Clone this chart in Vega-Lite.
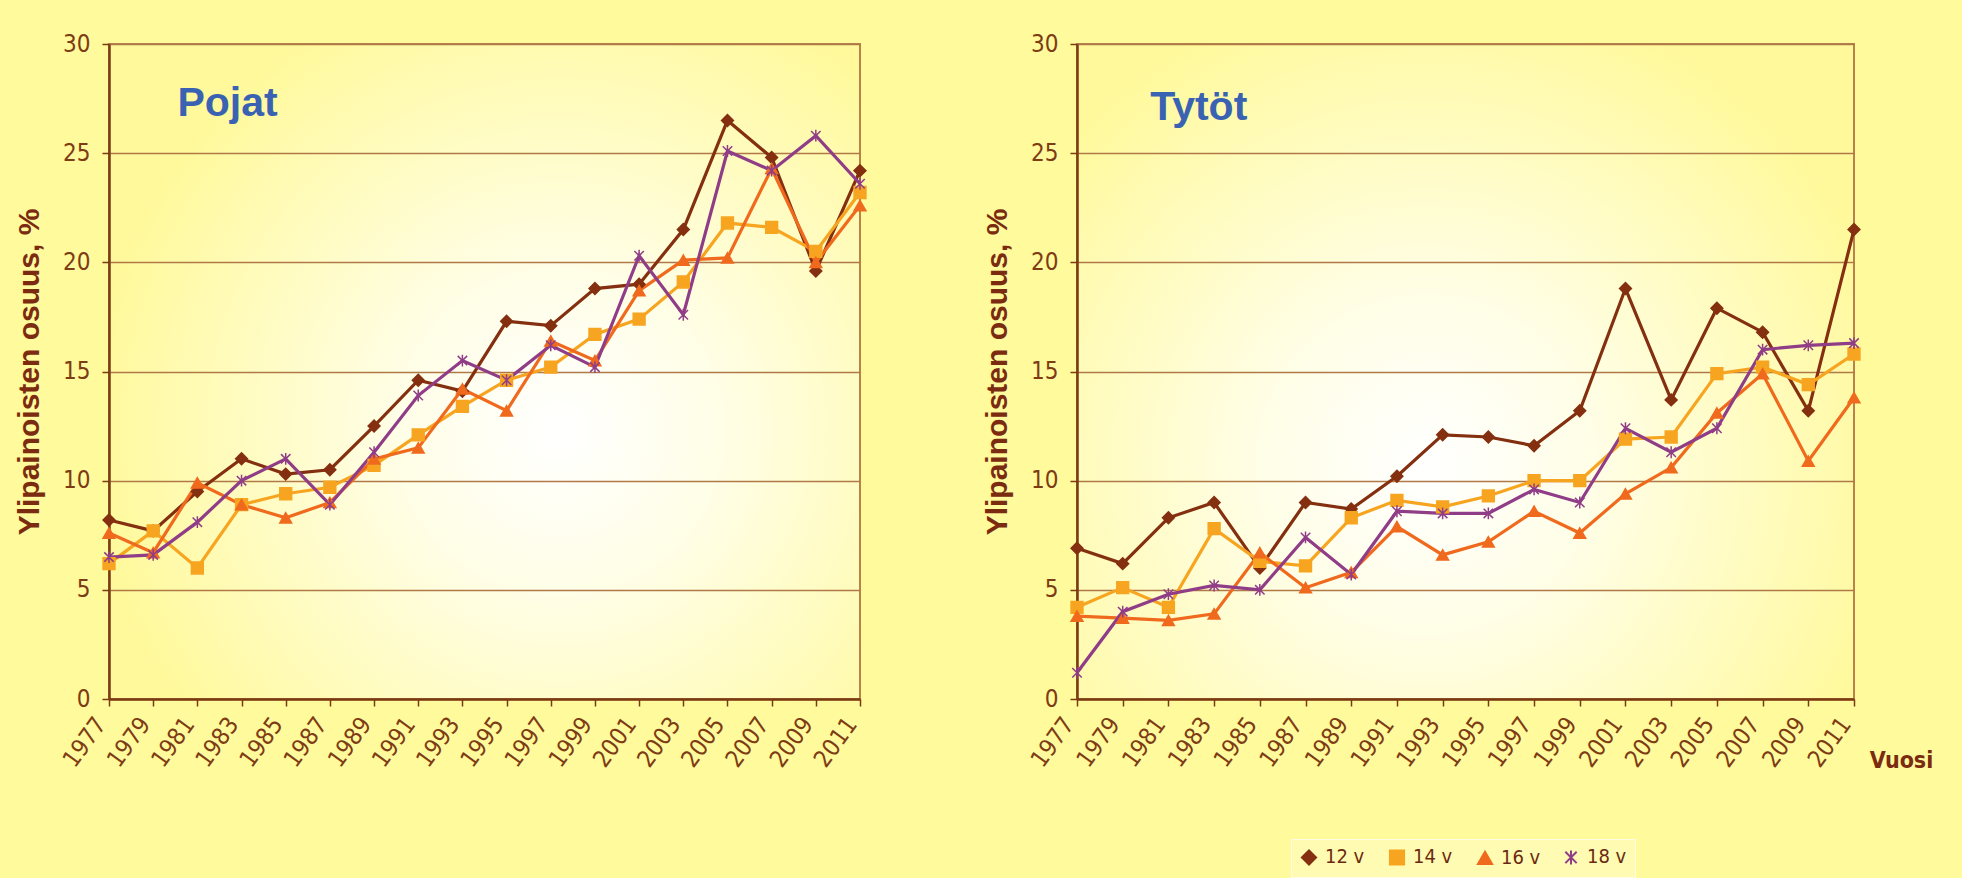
{
  "$schema": "https://vega.github.io/schema/vega-lite/v6.json",
  "background": "#FFFA9C",
  "padding": {"left": 13, "top": 31, "right": 70, "bottom": 0},
  "config": {
    "font": "Liberation Sans",
    "axis": {
      "labelFont": "Liberation Sans Narrow, DejaVu Sans Condensed, sans-serif",
      "labelFontSize": 24,
      "labelColor": "#7D3C14",
      "domainColor": "#7A3A12",
      "domainWidth": 2.5,
      "tickColor": "#7A3A12",
      "tickWidth": 1.5,
      "tickSize": 7,
      "gridColor": "#B07A48",
      "gridWidth": 1.5,
      "titleFont": "Liberation Sans",
      "titleFontWeight": "bold",
      "titleColor": "#7B2B10"
    }
  },
  "data": {"values": [
    {"sex":"Pojat","year":1977,"age":"12 v","pct":8.2},{"sex":"Pojat","year":1977,"age":"14 v","pct":6.2},{"sex":"Pojat","year":1977,"age":"16 v","pct":7.6},{"sex":"Pojat","year":1977,"age":"18 v","pct":6.5},
    {"sex":"Pojat","year":1979,"age":"12 v","pct":7.7},{"sex":"Pojat","year":1979,"age":"14 v","pct":7.7},{"sex":"Pojat","year":1979,"age":"16 v","pct":6.7},{"sex":"Pojat","year":1979,"age":"18 v","pct":6.6},
    {"sex":"Pojat","year":1981,"age":"12 v","pct":9.5},{"sex":"Pojat","year":1981,"age":"14 v","pct":6.0},{"sex":"Pojat","year":1981,"age":"16 v","pct":9.9},{"sex":"Pojat","year":1981,"age":"18 v","pct":8.1},
    {"sex":"Pojat","year":1983,"age":"12 v","pct":11.0},{"sex":"Pojat","year":1983,"age":"14 v","pct":8.9},{"sex":"Pojat","year":1983,"age":"16 v","pct":8.9},{"sex":"Pojat","year":1983,"age":"18 v","pct":10.0},
    {"sex":"Pojat","year":1985,"age":"12 v","pct":10.3},{"sex":"Pojat","year":1985,"age":"14 v","pct":9.4},{"sex":"Pojat","year":1985,"age":"16 v","pct":8.3},{"sex":"Pojat","year":1985,"age":"18 v","pct":11.0},
    {"sex":"Pojat","year":1987,"age":"12 v","pct":10.5},{"sex":"Pojat","year":1987,"age":"14 v","pct":9.7},{"sex":"Pojat","year":1987,"age":"16 v","pct":9.0},{"sex":"Pojat","year":1987,"age":"18 v","pct":8.9},
    {"sex":"Pojat","year":1989,"age":"12 v","pct":12.5},{"sex":"Pojat","year":1989,"age":"14 v","pct":10.7},{"sex":"Pojat","year":1989,"age":"16 v","pct":11.0},{"sex":"Pojat","year":1989,"age":"18 v","pct":11.3},
    {"sex":"Pojat","year":1991,"age":"12 v","pct":14.6},{"sex":"Pojat","year":1991,"age":"14 v","pct":12.1},{"sex":"Pojat","year":1991,"age":"16 v","pct":11.5},{"sex":"Pojat","year":1991,"age":"18 v","pct":13.9},
    {"sex":"Pojat","year":1993,"age":"12 v","pct":14.1},{"sex":"Pojat","year":1993,"age":"14 v","pct":13.4},{"sex":"Pojat","year":1993,"age":"16 v","pct":14.2},{"sex":"Pojat","year":1993,"age":"18 v","pct":15.5},
    {"sex":"Pojat","year":1995,"age":"12 v","pct":17.3},{"sex":"Pojat","year":1995,"age":"14 v","pct":14.6},{"sex":"Pojat","year":1995,"age":"16 v","pct":13.2},{"sex":"Pojat","year":1995,"age":"18 v","pct":14.6},
    {"sex":"Pojat","year":1997,"age":"12 v","pct":17.1},{"sex":"Pojat","year":1997,"age":"14 v","pct":15.2},{"sex":"Pojat","year":1997,"age":"16 v","pct":16.4},{"sex":"Pojat","year":1997,"age":"18 v","pct":16.2},
    {"sex":"Pojat","year":1999,"age":"12 v","pct":18.8},{"sex":"Pojat","year":1999,"age":"14 v","pct":16.7},{"sex":"Pojat","year":1999,"age":"16 v","pct":15.5},{"sex":"Pojat","year":1999,"age":"18 v","pct":15.2},
    {"sex":"Pojat","year":2001,"age":"12 v","pct":19.0},{"sex":"Pojat","year":2001,"age":"14 v","pct":17.4},{"sex":"Pojat","year":2001,"age":"16 v","pct":18.7},{"sex":"Pojat","year":2001,"age":"18 v","pct":20.3},
    {"sex":"Pojat","year":2003,"age":"12 v","pct":21.5},{"sex":"Pojat","year":2003,"age":"14 v","pct":19.1},{"sex":"Pojat","year":2003,"age":"16 v","pct":20.1},{"sex":"Pojat","year":2003,"age":"18 v","pct":17.6},
    {"sex":"Pojat","year":2005,"age":"12 v","pct":26.5},{"sex":"Pojat","year":2005,"age":"14 v","pct":21.8},{"sex":"Pojat","year":2005,"age":"16 v","pct":20.2},{"sex":"Pojat","year":2005,"age":"18 v","pct":25.1},
    {"sex":"Pojat","year":2007,"age":"12 v","pct":24.8},{"sex":"Pojat","year":2007,"age":"14 v","pct":21.6},{"sex":"Pojat","year":2007,"age":"16 v","pct":24.3},{"sex":"Pojat","year":2007,"age":"18 v","pct":24.2},
    {"sex":"Pojat","year":2009,"age":"12 v","pct":19.6},{"sex":"Pojat","year":2009,"age":"14 v","pct":20.5},{"sex":"Pojat","year":2009,"age":"16 v","pct":20.0},{"sex":"Pojat","year":2009,"age":"18 v","pct":25.8},
    {"sex":"Pojat","year":2011,"age":"12 v","pct":24.2},{"sex":"Pojat","year":2011,"age":"14 v","pct":23.2},{"sex":"Pojat","year":2011,"age":"16 v","pct":22.6},{"sex":"Pojat","year":2011,"age":"18 v","pct":23.6},
    {"sex":"Tytöt","year":1977,"age":"12 v","pct":6.9},{"sex":"Tytöt","year":1977,"age":"14 v","pct":4.2},{"sex":"Tytöt","year":1977,"age":"16 v","pct":3.8},{"sex":"Tytöt","year":1977,"age":"18 v","pct":1.2},
    {"sex":"Tytöt","year":1979,"age":"12 v","pct":6.2},{"sex":"Tytöt","year":1979,"age":"14 v","pct":5.1},{"sex":"Tytöt","year":1979,"age":"16 v","pct":3.7},{"sex":"Tytöt","year":1979,"age":"18 v","pct":4.0},
    {"sex":"Tytöt","year":1981,"age":"12 v","pct":8.3},{"sex":"Tytöt","year":1981,"age":"14 v","pct":4.2},{"sex":"Tytöt","year":1981,"age":"16 v","pct":3.6},{"sex":"Tytöt","year":1981,"age":"18 v","pct":4.8},
    {"sex":"Tytöt","year":1983,"age":"12 v","pct":9.0},{"sex":"Tytöt","year":1983,"age":"14 v","pct":7.8},{"sex":"Tytöt","year":1983,"age":"16 v","pct":3.9},{"sex":"Tytöt","year":1983,"age":"18 v","pct":5.2},
    {"sex":"Tytöt","year":1985,"age":"12 v","pct":6.0},{"sex":"Tytöt","year":1985,"age":"14 v","pct":6.3},{"sex":"Tytöt","year":1985,"age":"16 v","pct":6.7},{"sex":"Tytöt","year":1985,"age":"18 v","pct":5.0},
    {"sex":"Tytöt","year":1987,"age":"12 v","pct":9.0},{"sex":"Tytöt","year":1987,"age":"14 v","pct":6.1},{"sex":"Tytöt","year":1987,"age":"16 v","pct":5.1},{"sex":"Tytöt","year":1987,"age":"18 v","pct":7.4},
    {"sex":"Tytöt","year":1989,"age":"12 v","pct":8.7},{"sex":"Tytöt","year":1989,"age":"14 v","pct":8.3},{"sex":"Tytöt","year":1989,"age":"16 v","pct":5.8},{"sex":"Tytöt","year":1989,"age":"18 v","pct":5.7},
    {"sex":"Tytöt","year":1991,"age":"12 v","pct":10.2},{"sex":"Tytöt","year":1991,"age":"14 v","pct":9.1},{"sex":"Tytöt","year":1991,"age":"16 v","pct":7.9},{"sex":"Tytöt","year":1991,"age":"18 v","pct":8.6},
    {"sex":"Tytöt","year":1993,"age":"12 v","pct":12.1},{"sex":"Tytöt","year":1993,"age":"14 v","pct":8.8},{"sex":"Tytöt","year":1993,"age":"16 v","pct":6.6},{"sex":"Tytöt","year":1993,"age":"18 v","pct":8.5},
    {"sex":"Tytöt","year":1995,"age":"12 v","pct":12.0},{"sex":"Tytöt","year":1995,"age":"14 v","pct":9.3},{"sex":"Tytöt","year":1995,"age":"16 v","pct":7.2},{"sex":"Tytöt","year":1995,"age":"18 v","pct":8.5},
    {"sex":"Tytöt","year":1997,"age":"12 v","pct":11.6},{"sex":"Tytöt","year":1997,"age":"14 v","pct":10.0},{"sex":"Tytöt","year":1997,"age":"16 v","pct":8.6},{"sex":"Tytöt","year":1997,"age":"18 v","pct":9.6},
    {"sex":"Tytöt","year":1999,"age":"12 v","pct":13.2},{"sex":"Tytöt","year":1999,"age":"14 v","pct":10.0},{"sex":"Tytöt","year":1999,"age":"16 v","pct":7.6},{"sex":"Tytöt","year":1999,"age":"18 v","pct":9.0},
    {"sex":"Tytöt","year":2001,"age":"12 v","pct":18.8},{"sex":"Tytöt","year":2001,"age":"14 v","pct":11.9},{"sex":"Tytöt","year":2001,"age":"16 v","pct":9.4},{"sex":"Tytöt","year":2001,"age":"18 v","pct":12.4},
    {"sex":"Tytöt","year":2003,"age":"12 v","pct":13.7},{"sex":"Tytöt","year":2003,"age":"14 v","pct":12.0},{"sex":"Tytöt","year":2003,"age":"16 v","pct":10.6},{"sex":"Tytöt","year":2003,"age":"18 v","pct":11.3},
    {"sex":"Tytöt","year":2005,"age":"12 v","pct":17.9},{"sex":"Tytöt","year":2005,"age":"14 v","pct":14.9},{"sex":"Tytöt","year":2005,"age":"16 v","pct":13.1},{"sex":"Tytöt","year":2005,"age":"18 v","pct":12.4},
    {"sex":"Tytöt","year":2007,"age":"12 v","pct":16.8},{"sex":"Tytöt","year":2007,"age":"14 v","pct":15.2},{"sex":"Tytöt","year":2007,"age":"16 v","pct":14.9},{"sex":"Tytöt","year":2007,"age":"18 v","pct":16.0},
    {"sex":"Tytöt","year":2009,"age":"12 v","pct":13.2},{"sex":"Tytöt","year":2009,"age":"14 v","pct":14.4},{"sex":"Tytöt","year":2009,"age":"16 v","pct":10.9},{"sex":"Tytöt","year":2009,"age":"18 v","pct":16.2},
    {"sex":"Tytöt","year":2011,"age":"12 v","pct":21.5},{"sex":"Tytöt","year":2011,"age":"14 v","pct":15.8},{"sex":"Tytöt","year":2011,"age":"16 v","pct":13.8},{"sex":"Tytöt","year":2011,"age":"18 v","pct":16.3}
  ]},
  "spacing": 111,
  "hconcat": [
    {
      "width": 751,
      "height": 655,
      "view": {
        "stroke": "#B8824A",
        "strokeWidth": 2,
        "fill": {"gradient": "radial", "x1": 0.6, "y1": 0.58, "r1": 0, "x2": 0.6, "y2": 0.58, "r2": 0.62,
                 "stops": [{"offset": 0, "color": "#FFFFFF"}, {"offset": 0.35, "color": "#FFFEE6"}, {"offset": 1, "color": "#FFF99C"}]}
      },
      "encoding": {
        "x": {"field": "year", "type": "quantitative",
              "scale": {"domain": [1977, 2011], "nice": false, "zero": false},
              "axis": {"values": [1977,1979,1981,1983,1985,1987,1989,1991,1993,1995,1997,1999,2001,2003,2005,2007,2009,2011],
                       "format": "d", "labelAngle": -54, "grid": false, "title": null, "labelPadding": 14, "labelOffset": -8, "labelFlush": false, "labelOverlap": false}},
        "y": {"field": "pct", "type": "quantitative",
              "scale": {"domain": [0, 30], "nice": false},
              "axis": {"values": [0,5,10,15,20,25,30], "title": "Ylipainoisten osuus, %", "titleFontSize": 30, "titlePadding": 18, "labelPadding": 12, "grid": true}}
      },
      "layer": [
        {
          "transform": [{"filter": "datum.sex === 'Pojat'"}],
          "mark": {"type": "line", "strokeWidth": 3.2},
          "encoding": {
            "color": {"field": "age", "type": "nominal",
                      "scale": {"domain": ["12 v","14 v","16 v","18 v"], "range": ["#843010","#F7A520","#F06A1E","#903D88"]}}
          }
        },
        {
          "transform": [{"filter": "datum.sex === 'Pojat'"}],
          "mark": {"type": "point", "filled": true, "size": 140, "strokeWidth": 1.5, "opacity": 1},
          "encoding": {
            "color": {"field": "age", "type": "nominal",
                      "scale": {"domain": ["12 v","14 v","16 v","18 v"], "range": ["#843010","#F7A520","#F06A1E","#903D88"]},
                      "legend": {
                        "orient": "none", "legendX": 1182, "legendY": 795, "direction": "horizontal", "title": null,
                        "symbolSize": 200, "symbolStrokeWidth": 2,
                        "labelFont": "Liberation Sans Narrow, DejaVu Sans Condensed, sans-serif", "labelFontSize": 20, "labelColor": "#6B2A10",
                        "columnPadding": 20, "labelOffset": 6, "padding": 8,
                        "fillColor": "#FFFBB3", "strokeColor": "#FFFDE6"
                      }},
            "shape": {"field": "age", "type": "nominal", "legend": null,
                      "scale": {"domain": ["12 v","14 v","16 v","18 v"], "range": ["diamond","square","triangle-up","M0,-1L0,1M-0.8,-0.8L0.8,0.8M-0.8,0.8L0.8,-0.8"]}},
            "stroke": {"field": "age", "type": "nominal",
                       "scale": {"domain": ["12 v","14 v","16 v","18 v"], "range": ["#843010","#F7A520","#F06A1E","#903D88"]}, "legend": null}
          }
        },
        {
          "transform": [{"filter": "datum.sex === 'Pojat' && datum.year === 1977 && datum.age === '12 v'"}],
          "mark": {"type": "text", "fontSize": 41, "fontWeight": "bold", "color": "#3A62B2", "align": "left", "baseline": "alphabetic", "font": "Liberation Sans"},
          "encoding": {"x": {"datum": 1980.1, "type": "quantitative"}, "y": {"datum": 26.7, "type": "quantitative"}, "text": {"field": "sex"}, "color": {"value": "#3A62B2"}}
        }
      ]
    },
    {
      "width": 777,
      "height": 655,
      "view": {
        "stroke": "#B8824A",
        "strokeWidth": 2,
        "fill": {"gradient": "radial", "x1": 0.45, "y1": 0.62, "r1": 0, "x2": 0.45, "y2": 0.62, "r2": 0.62,
                 "stops": [{"offset": 0, "color": "#FFFFFF"}, {"offset": 0.35, "color": "#FFFEE6"}, {"offset": 1, "color": "#FFF99C"}]}
      },
      "encoding": {
        "x": {"field": "year", "type": "quantitative",
              "scale": {"domain": [1977, 2011], "nice": false, "zero": false},
              "axis": {"values": [1977,1979,1981,1983,1985,1987,1989,1991,1993,1995,1997,1999,2001,2003,2005,2007,2009,2011],
                       "format": "d", "labelAngle": -54, "grid": false, "labelPadding": 14, "labelOffset": -8, "labelFlush": false, "labelOverlap": false,
                       "title": "Vuosi", "titleX": 824, "titleY": 61, "titleAlign": "center", "titleBaseline": "middle", "titleAngle": 0,
                       "titleFontSize": 23, "titleFont": "Liberation Sans Narrow, DejaVu Sans Condensed, sans-serif"}},
        "y": {"field": "pct", "type": "quantitative",
              "scale": {"domain": [0, 30], "nice": false},
              "axis": {"values": [0,5,10,15,20,25,30], "title": "Ylipainoisten osuus, %", "titleFontSize": 30, "titlePadding": 18, "labelPadding": 12, "grid": true}}
      },
      "layer": [
        {
          "transform": [{"filter": "datum.sex === 'Tytöt'"}],
          "mark": {"type": "line", "strokeWidth": 3.2},
          "encoding": {
            "color": {"field": "age", "type": "nominal",
                      "scale": {"domain": ["12 v","14 v","16 v","18 v"], "range": ["#843010","#F7A520","#F06A1E","#903D88"]}}
          }
        },
        {
          "transform": [{"filter": "datum.sex === 'Tytöt'"}],
          "mark": {"type": "point", "filled": true, "size": 140, "strokeWidth": 1.5, "opacity": 1},
          "encoding": {
            "color": {"field": "age", "type": "nominal",
                      "scale": {"domain": ["12 v","14 v","16 v","18 v"], "range": ["#843010","#F7A520","#F06A1E","#903D88"]}},
            "shape": {"field": "age", "type": "nominal", "legend": null,
                      "scale": {"domain": ["12 v","14 v","16 v","18 v"], "range": ["diamond","square","triangle-up","M0,-1L0,1M-0.8,-0.8L0.8,0.8M-0.8,0.8L0.8,-0.8"]}},
            "stroke": {"field": "age", "type": "nominal",
                       "scale": {"domain": ["12 v","14 v","16 v","18 v"], "range": ["#843010","#F7A520","#F06A1E","#903D88"]}, "legend": null}
          }
        },
        {
          "transform": [{"filter": "datum.sex === 'Tytöt' && datum.year === 1977 && datum.age === '12 v'"}],
          "mark": {"type": "text", "fontSize": 41, "fontWeight": "bold", "color": "#3A62B2", "align": "left", "baseline": "alphabetic", "font": "Liberation Sans"},
          "encoding": {"x": {"datum": 1980.2, "type": "quantitative"}, "y": {"datum": 26.5, "type": "quantitative"}, "text": {"field": "sex"}, "color": {"value": "#3A62B2"}}
        }
      ]
    }
  ]
}
